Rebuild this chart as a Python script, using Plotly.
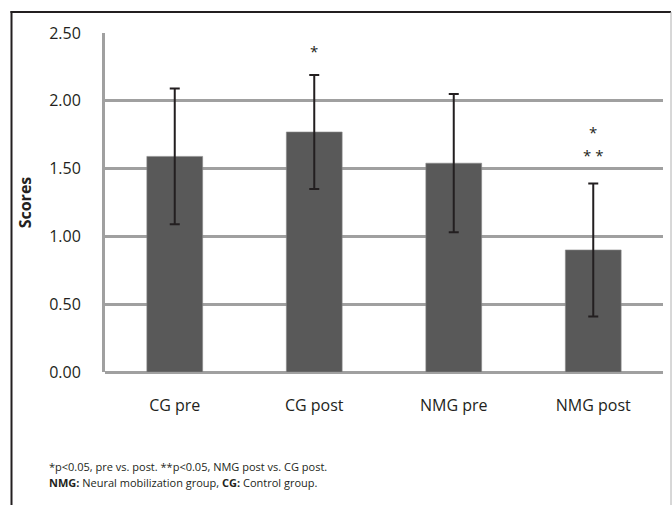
import plotly.graph_objects as go

categories = ["CG pre", "CG post", "NMG pre", "NMG post"]
scores = [1.59, 1.77, 1.54, 0.90]
sd = [0.50, 0.42, 0.51, 0.49]
y_ticks = [0.0, 0.5, 1.0, 1.5, 2.0, 2.5]
y_tick_labels = ["0.00", "0.50", "1.00", "1.50", "2.00", "2.50"]
sig_marks = [("CG post", 2.37, "*"), ("NMG post", 1.77, "*"), ("NMG post", 1.60, "* *")]
footnote_1 = "*p<0.05, pre vs. post. **p<0.05, NMG post vs. CG post."
footnote_2 = "<b>NMG:</b> Neural mobilization group, <b>CG:</b> Control group."

FONT = "Open Sans"
W, H = 672, 505
L, R, T, B = 105, 9, 33, 132.5
pw, ph = W - L - R, H - T - B


def px_x(px):
    return (px - L) / pw


def px_y(py):
    return (H - B - py) / ph


fig = go.Figure()
fig.add_trace(go.Bar(
    x=categories, y=scores,
    marker=dict(color="#595959", line=dict(color="#8a8a8a", width=0.6)),
    error_y=dict(type="data", array=sd, visible=True, color="#231F20", thickness=2, width=5),
    width=0.4,
))

for cat, yv, txt in sig_marks:
    fig.add_annotation(x=cat, y=yv, text=txt, showarrow=False, xref="x", yref="y",
                       font=dict(family=FONT, size=15, color="#231F20"))

fig.add_annotation(x=px_x(47), y=px_y(467), xref="paper", yref="paper", text=footnote_1,
                   showarrow=False, xanchor="left", yanchor="middle",
                   font=dict(family=FONT, size=11, color="#231F20"))
fig.add_annotation(x=px_x(47), y=px_y(483), xref="paper", yref="paper", text=footnote_2,
                   showarrow=False, xanchor="left", yanchor="middle",
                   font=dict(family=FONT, size=11, color="#231F20"))

# outer frame
fig.add_shape(type="line", xref="paper", yref="paper", x0=px_x(11.5), x1=px_x(11.5),
              y0=px_y(11), y1=px_y(520), line=dict(color="#231F20", width=2))
fig.add_shape(type="line", xref="paper", yref="paper", x0=px_x(10.5), x1=px_x(671),
              y0=px_y(12), y1=px_y(12), line=dict(color="#231F20", width=2))
fig.add_shape(type="line", xref="paper", yref="paper", x0=px_x(671), x1=px_x(671),
              y0=px_y(12), y1=px_y(520), line=dict(color="#b0b0b0", width=1))

fig.update_layout(
    width=W, height=H,
    margin=dict(l=L, r=R, t=T, b=B, pad=0),
    paper_bgcolor="white", plot_bgcolor="white",
    showlegend=False,
    font=dict(family=FONT, size=16, color="#231F20"),
    xaxis=dict(showgrid=False, showline=False, ticks="", ticklabelstandoff=22,
               tickfont=dict(family=FONT, size=16, color="#231F20"), zeroline=False),
    yaxis=dict(range=[0, 2.5], tickvals=y_ticks, ticktext=y_tick_labels,
               showgrid=True, gridcolor="#a0a0a0", gridwidth=3,
               showline=True, linecolor="#a0a0a0", linewidth=3,
               zeroline=True, zerolinecolor="#a0a0a0", zerolinewidth=3,
               ticks="", ticklabelstandoff=18,
               tickfont=dict(family=FONT, size=16, color="#231F20"),
               title=dict(text="<b>Scores</b>", standoff=14,
                          font=dict(family=FONT, size=16, color="#231F20"))),
)

fig.write_html("out.html")
